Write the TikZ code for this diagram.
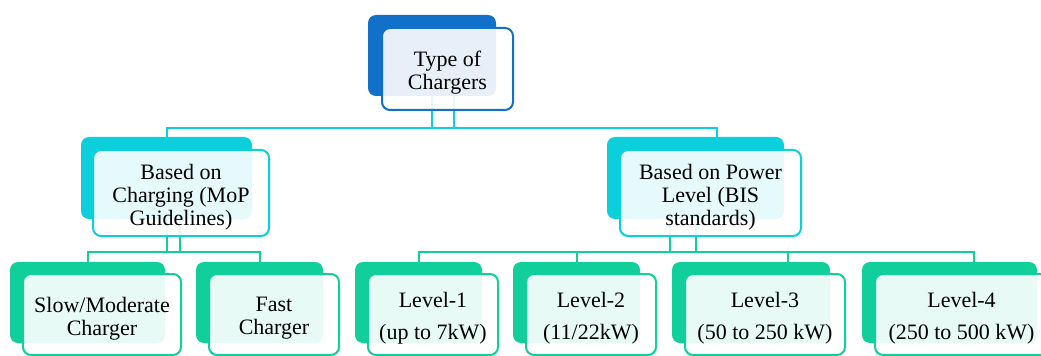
\documentclass[tikz,border=0pt]{standalone}
\usepackage{fontspec}
\setmainfont{Liberation Serif}
\usetikzlibrary{fit}
\definecolor{rootblue}{RGB}{17,112,199}
\definecolor{midcyan}{RGB}{11,207,219}
\definecolor{leafgreen}{RGB}{16,207,155}

\begin{document}
\begin{tikzpicture}[x=0.75pt,y=-0.75pt]
\tikzset{backbox/.style={rounded corners=6pt, inner sep=0pt, draw=none},
  frontbox/.style={rounded corners=6pt, inner sep=0pt, draw, line width=1.5pt,
    fill=white, fill opacity=0.9},
  boxtext/.style={align=center, inner sep=0pt, yshift=-3pt,
    font=\fontsize{16.5}{17.25}\selectfont},
  link/.style={line width=1.5pt}}
\clip (0,0) rectangle (1041,356);
% back boxes
\node[backbox, fill=rootblue, fit={(368,15) (496,96)}] (Rb) {};
\node[backbox, fill=midcyan, fit={(81,137) (252,219)}] (Ab) {};
\node[backbox, fill=midcyan, fit={(607,137) (784,219)}] (Bb) {};
\node[backbox, fill=leafgreen, fit={(10,262) (165,343)}] (S1b) {};
\node[backbox, fill=leafgreen, fit={(196,262) (323,343)}] (S2b) {};
\node[backbox, fill=leafgreen, fit={(355,262) (482,343)}] (L1b) {};
\node[backbox, fill=leafgreen, fit={(513,262) (640,343)}] (L2b) {};
\node[backbox, fill=leafgreen, fit={(672,262) (830,343)}] (L3b) {};
\node[backbox, fill=leafgreen, fit={(862,262) (1037,343)}] (L4b) {};
% connectors
\coordinate (busR) at (0,128);
\coordinate (busA) at (0,252);
\coordinate (Rr) at (454,0);
\coordinate (Bd) at (717,0);
\coordinate (Ar) at (180,0);
\coordinate (Br) at (670,0);
\coordinate (L3d) at (788,0);
\coordinate (L4d) at (974,0);
\draw[link, midcyan] (Rb.south) -- (Rb.south |- busR);
\draw[link, midcyan] (Rr |- Rb.south) -- (Rr |- busR);
\draw[link, midcyan] (Ab.north) |- (Bd |- busR) -- (Bd |- Bb.north);
\draw[link, leafgreen] (Ab.south) -- (Ab.south |- busA);
\draw[link, leafgreen] (Ar |- Ab.south) -- (Ar |- busA);
\draw[link, leafgreen] (S1b.north) |- (S2b.north |- busA) -- (S2b.north);
\draw[link, leafgreen] (Br |- Bb.south) -- (Br |- busA);
\draw[link, leafgreen] (Bb.south) -- (Bb.south |- busA);
\draw[link, leafgreen] (L1b.north) |- (L4d |- busA) -- (L4d |- L4b.north);
\draw[link, leafgreen] (L2b.north) -- (L2b.north |- busA);
\draw[link, leafgreen] (L3d |- L3b.north) -- (L3d |- busA);
% front boxes
\node[frontbox, draw=rootblue, fit={(382,28) (513,110)}] (R) {};
\node[frontbox, draw=midcyan, fit={(93,150) (269,236)}] (A) {};
\node[frontbox, draw=midcyan, fit={(620,150) (801,236)}] (B) {};
\node[frontbox, draw=leafgreen, fit={(23,274) (181,355)}] (S1) {};
\node[frontbox, draw=leafgreen, fit={(209,274) (339,355)}] (S2) {};
\node[frontbox, draw=leafgreen, fit={(368,274) (498,355)}] (L1) {};
\node[frontbox, draw=leafgreen, fit={(526,274) (656,355)}] (L2) {};
\node[frontbox, draw=leafgreen, fit={(685,274) (845,355)}] (L3) {};
\node[frontbox, draw=leafgreen, fit={(875,274) (1048,355)}] (L4) {};
% texts
\node[boxtext] (Rt) at (R.center) {Type of\\Chargers};
\node[boxtext] (At) at (A.center) {Based on\\Charging (MoP\\Guidelines)};
\node[boxtext] (Bt) at (B.center) {Based on Power\\Level (BIS\\standards)};
\node[boxtext] (S1t) at (S1.center) {Slow/Moderate\\Charger};
\node[boxtext] (S2t) at (S2.center) {Fast\\Charger};
\node[boxtext] (L1t) at (L1.center) {Level-1\\[6.75pt](up to 7kW)};
\node[boxtext] (L2t) at (L2.center) {Level-2\\[6.75pt](11/22kW)};
\node[boxtext] (L3t) at (L3.center) {Level-3\\[6.75pt](50 to 250 kW)};
\node[boxtext] (L4t) at (L4.center) {Level-4\\[6.75pt](250 to 500 kW)};
\end{tikzpicture}
\end{document}
